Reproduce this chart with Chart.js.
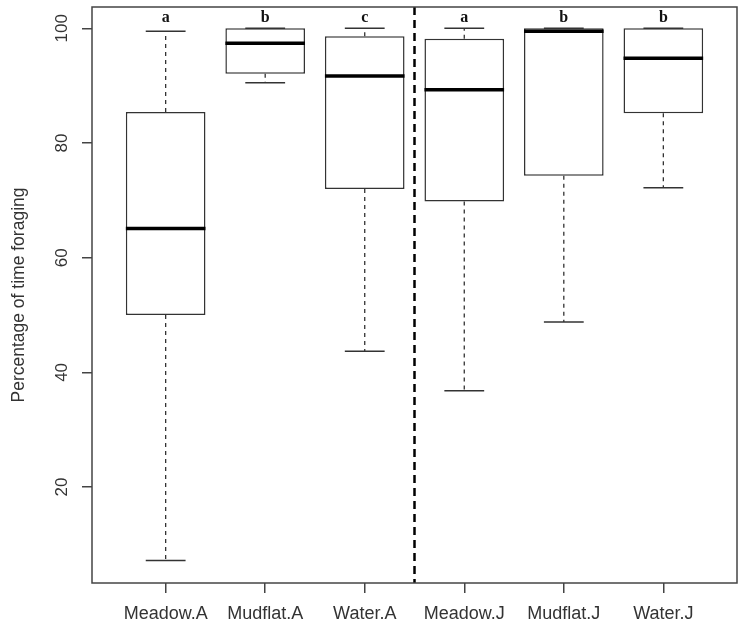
<!DOCTYPE html>
<html>
<head>
<meta charset="utf-8">
<script src="https://cdn.jsdelivr.net/npm/chart.js@4/dist/chart.umd.min.js"></script>
<style>
  html, body { margin: 0; padding: 0; background: #fff; }
  #wrap { width: 744px; height: 630px; }
</style>
</head>
<body>
<div id="wrap"><canvas id="chart" width="744" height="630"></canvas></div>
<script>
/* ── Data ── */
const groups   = ['Meadow.A', 'Mudflat.A', 'Water.A', 'Meadow.J', 'Mudflat.J', 'Water.J'];
const whiskLo  = [7.2, 90.5, 43.7, 36.8, 48.8, 72.2];
const q1       = [50.0, 92.1, 72.0, 69.8, 74.3, 85.2];
const medians  = [65.1, 97.4, 91.7, 89.3, 99.5, 94.8];
const q3       = [85.4, 100, 98.6, 98.2, 100, 100];
const whiskHi  = [99.5, 100, 100, 100, 100, 100];
const letters  = ['a', 'b', 'c', 'a', 'b', 'b'];
const yTicks   = [20, 40, 60, 80, 100];
const divideAt = 3.5;    // season split (A | J)
const letterAt = 101.9;

/* ── Whiskers, medians, letters, divider, frame ── */
const boxExtras = {
  id: 'boxExtras',
  afterDatasetsDraw(chart) {
    const { ctx, chartArea: ca, scales: { x, y } } = chart;
    const meta = chart.getDatasetMeta(0);
    ctx.save();
    meta.data.forEach((bar, i) => {
      const cx = x.getPixelForValue(i + 1);
      const half = bar.width / 2;
      const capHalf = half / 2;
      // whiskers
      ctx.strokeStyle = '#333';
      ctx.lineWidth = 1.3;
      ctx.setLineDash([4, 4]);
      ctx.beginPath();
      ctx.moveTo(cx, y.getPixelForValue(q3[i]));
      ctx.lineTo(cx, y.getPixelForValue(whiskHi[i]));
      ctx.moveTo(cx, y.getPixelForValue(q1[i]));
      ctx.lineTo(cx, y.getPixelForValue(whiskLo[i]));
      ctx.stroke();
      ctx.setLineDash([]);
      ctx.lineWidth = 1.5;
      ctx.beginPath();
      [whiskHi[i], whiskLo[i]].forEach(v => {
        const py = y.getPixelForValue(v);
        ctx.moveTo(cx - capHalf, py);
        ctx.lineTo(cx + capHalf, py);
      });
      ctx.stroke();
      // median
      ctx.strokeStyle = '#000';
      ctx.lineWidth = 3.5;
      ctx.beginPath();
      const my = y.getPixelForValue(medians[i]);
      ctx.moveTo(cx - half, my);
      ctx.lineTo(cx + half, my);
      ctx.stroke();
      // significance letter
      ctx.fillStyle = '#111';
      ctx.font = 'bold 16px "Liberation Serif", serif';
      ctx.textAlign = 'center';
      ctx.textBaseline = 'middle';
      ctx.fillText(letters[i], cx, y.getPixelForValue(letterAt));
    });
    // dashed divider
    const dx = x.getPixelForValue(divideAt);
    ctx.strokeStyle = '#000';
    ctx.lineWidth = 2.5;
    ctx.setLineDash([8, 5]);
    ctx.beginPath();
    ctx.moveTo(dx, ca.top);
    ctx.lineTo(dx, ca.bottom);
    ctx.stroke();
    ctx.setLineDash([]);
    // frame
    ctx.strokeStyle = '#444';
    ctx.lineWidth = 1.5;
    ctx.strokeRect(ca.left, ca.top, ca.right - ca.left, ca.bottom - ca.top);
    ctx.restore();
  }
};

const axisFont = { family: '"Liberation Sans", Arial, sans-serif', size: 17 };

new Chart(document.getElementById('chart'), {
  type: 'bar',
  data: {
    datasets: [{
      label: 'IQR',
      data: groups.map((g, i) => ({ x: i + 1, y: [q1[i], q3[i]] })),
      backgroundColor: '#fff',
      borderColor: '#333',
      borderWidth: 1.5,
      borderSkipped: false,
      categoryPercentage: 1,
      barPercentage: 0.8,
    }]
  },
  options: {
    responsive: false,
    animation: false,
    layout: { padding: { top: 7, right: 7, left: 0, bottom: 0 } },
    plugins: { legend: { display: false }, tooltip: { enabled: false } },
    scales: {
      x: {
        type: 'linear',
        offset: false,
        min: 0.26, max: 6.74,
        afterBuildTicks: s => { s.ticks = groups.map((g, i) => ({ value: i + 1 })); },
        afterFit: s => { s.height = 47; s.paddingLeft = 0; s.paddingRight = 0; },
        ticks: {
          callback: v => groups[v - 1],
          font: { ...axisFont, size: 18 },
          color: '#333',
          padding: 10,
          maxRotation: 0, minRotation: 0, autoSkip: false,
        },
        grid: { offset: false, drawOnChartArea: false, drawTicks: true, tickLength: 10, color: '#444', lineWidth: 1.5 },
        border: { display: false },
      },
      y: {
        min: 3.28, max: 103.72,
        afterBuildTicks: s => { s.ticks = yTicks.map(v => ({ value: v })); },
        afterFit: s => { s.width = 92; s.paddingTop = 0; s.paddingBottom = 0; },
        ticks: {
          font: axisFont,
          color: '#333',
          minRotation: 90, maxRotation: 90,
          crossAlign: 'center',
          padding: 6,
        },
        grid: { drawOnChartArea: false, drawTicks: true, tickLength: 10, color: '#444', lineWidth: 1.5 },
        border: { display: false },
        title: {
          display: true,
          text: 'Percentage of time foraging',
          font: { ...axisFont, size: 17.5 },
          color: '#333',
          padding: { top: 9, bottom: 0 },
        },
      }
    }
  },
  plugins: [boxExtras]
});
</script>
</body>
</html>
